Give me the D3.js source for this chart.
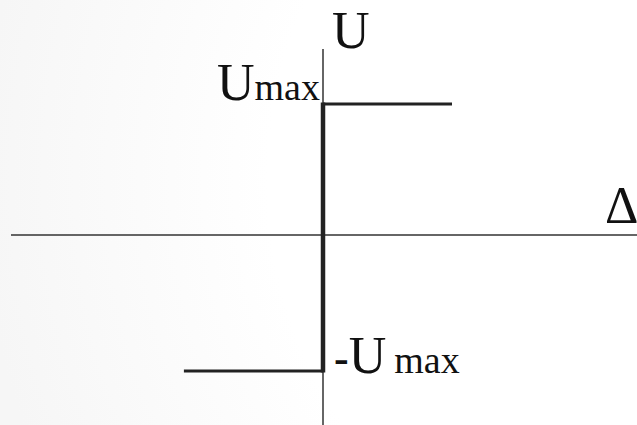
<!DOCTYPE html>
<html>
<head>
<meta charset="utf-8">
<script src="https://cdn.jsdelivr.net/npm/d3@7"></script>
<style>
  html, body { margin: 0; padding: 0; background: #fff; }
  svg { display: block; }
</style>
</head>
<body>
<svg id="target"></svg>
<script>
// Ideal relay characteristic: U = Umax * sign(delta)
let deltaValues = [-1.07, 0, 0, 1];   // left end, step, step, right end
let uValues = [-1, -1, 1, 1];          // -Umax ... +Umax
let levelLabels = ["Umax", "-Umax"];

let width = 637,
    height = 425;

function main() {
    let svg = d3.select("#target")
        .attr("width", width)
        .attr("height", height);

    // faint background shading like the slide
    let defs = svg.append("defs");
    let grad = defs.append("radialGradient")
        .attr("id", "bg")
        .attr("gradientUnits", "userSpaceOnUse")
        .attr("cx", 700).attr("cy", 180).attr("r", 720);
    grad.append("stop").attr("offset", "0.6").attr("stop-color", "#ffffff");
    grad.append("stop").attr("offset", "1").attr("stop-color", "#f6f6f6");
    svg.append("rect")
        .attr("width", width)
        .attr("height", height)
        .attr("fill", "url(#bg)");

    // piecewise scales: origin at the axis crossing
    let x = d3.scaleLinear()
        .domain([-1, 0, 1])
        .range([193, 323, 452]);
    let y = d3.scaleLinear()
        .domain([-1, 0, 1])
        .range([371, 235, 104]);

    // axes
    svg.append("line")
        .attr("x1", 11).attr("x2", width)
        .attr("y1", y(0)).attr("y2", y(0))
        .attr("stroke", "#333")
        .attr("stroke-width", 1.5);
    svg.append("line")
        .attr("x1", x(0)).attr("x2", x(0))
        .attr("y1", 49).attr("y2", height)
        .attr("stroke", "#333")
        .attr("stroke-width", 1.5);

    let pts = deltaValues.map((d, i) => [d, uValues[i]]);

    // horizontal levels
    let segs = [[pts[0], pts[1]], [pts[2], pts[3]]];
    svg.append("g")
        .selectAll("line")
        .data(segs)
        .enter()
        .append("line")
        .attr("x1", d => x(d[0][0]))
        .attr("y1", d => y(d[0][1]))
        .attr("x2", d => x(d[1][0]))
        .attr("y2", d => y(d[1][1]))
        .attr("stroke", "#222")
        .attr("stroke-width", 3);

    // switching jump (thicker)
    svg.append("line")
        .attr("x1", x(pts[1][0])).attr("y1", y(pts[1][1]) + 1.5)
        .attr("x2", x(pts[2][0])).attr("y2", y(pts[2][1]) - 1.5)
        .attr("stroke", "#222")
        .attr("stroke-width", 4.5);

    function label(px, py, anchor) {
        return svg.append("text")
            .attr("x", px)
            .attr("y", py)
            .attr("text-anchor", anchor || "start")
            .attr("font-family", "Liberation Serif")
            .attr("fill", "#111");
    }

    // axis labels
    label(x(0) + 9, 48).attr("font-size", 52).text("U");
    label(605, 223).attr("font-size", 52).text("\u0394");

    // level labels
    let upper = label(x(0) - 3, y(1) - 4, "end");
    upper.append("tspan").attr("font-size", 52).text(levelLabels[0].charAt(0));
    upper.append("tspan").attr("font-size", 38).text(levelLabels[0].slice(1));

    let lower = label(x(0) + 11, y(-1) + 2);
    lower.append("tspan").attr("font-size", 44).attr("font-weight", "bold").text(levelLabels[1].charAt(0));
    lower.append("tspan").attr("font-size", 52).text(levelLabels[1].charAt(1));
    lower.append("tspan").attr("font-size", 38).attr("dx", 8).text(levelLabels[1].slice(2));
}

main();
</script>
</body>
</html>
